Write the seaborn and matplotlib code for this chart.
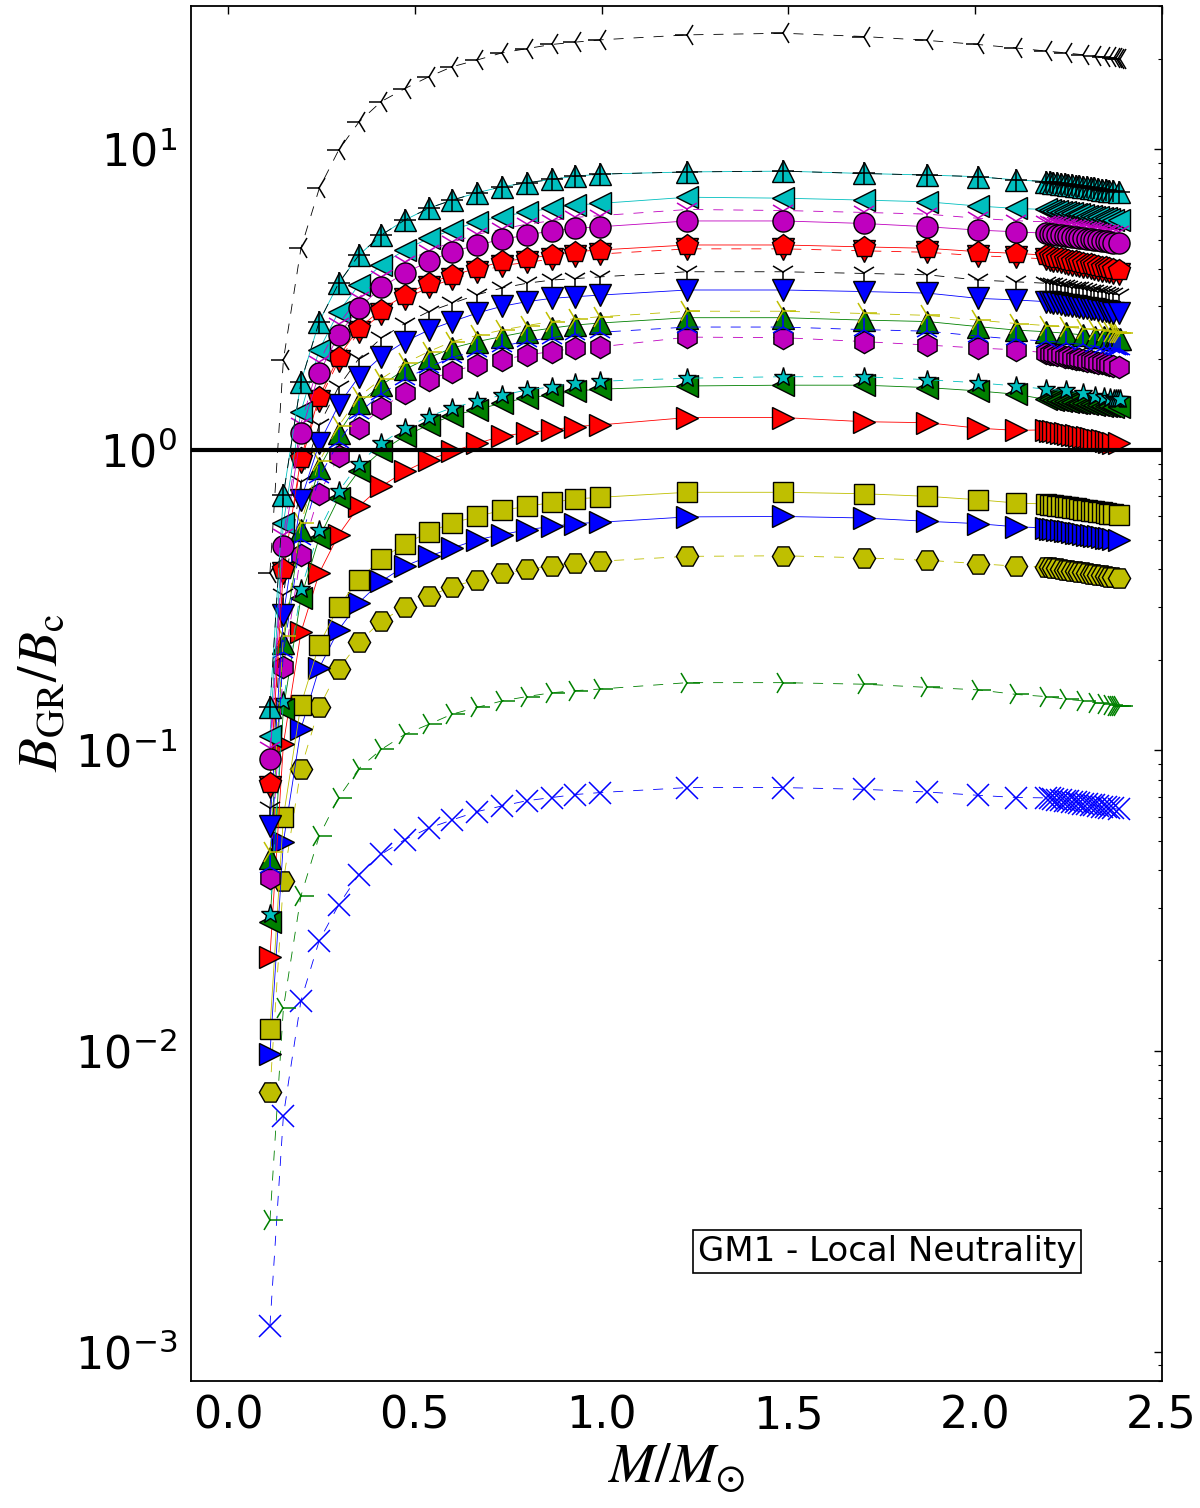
import matplotlib
matplotlib.use("Agg")
import matplotlib.pyplot as plt
import numpy as np
import pandas as pd
import seaborn as sns

# ---------------- data ----------------
# stellar masses of the sequence points (shared by all curves)
M_main = [0.112, 0.148, 0.195, 0.244, 0.296, 0.350, 0.410, 0.473, 0.537, 0.600, 0.667,
          0.733, 0.800, 0.867, 0.930, 0.997, 1.230, 1.487, 1.702, 1.873, 2.007, 2.111]
# dense end of the sequence, drawn as a ribbon of markers
M_ribbon = [2.190, 2.200, 2.210, 2.220, 2.230, 2.240, 2.250, 2.260, 2.270, 2.280,
            2.290, 2.300, 2.310, 2.320, 2.330, 2.340, 2.350, 2.360, 2.370, 2.385]
# dense end of the sequence for the curves whose last points converge
M_conv = [2.190, 2.245, 2.290, 2.322, 2.346, 2.362, 2.372, 2.379, 2.384, 2.388]

black_tril = [0.39, 1.99, 4.68, 7.4, 9.93, 12.3, 14.4, 15.9, 17.4, 18.8, 19.8,
              20.9, 21.6, 22.3, 22.7, 23.1, 24.0, 24.3, 23.7, 23.0, 22.3, 21.7]
black_tril_end = [21.2, 20.9, 20.6, 20.4, 20.3, 20.2, 20.1, 20.05, 20.0, 20.0]

cyan_up = [0.139, 0.709, 1.68, 2.67, 3.58, 4.44, 5.18, 5.81, 6.36, 6.77, 7.16,
           7.5, 7.73, 7.93, 8.13, 8.26, 8.4, 8.45, 8.3, 8.2, 8.1, 7.9]
cyan_up_end = [7.80, 7.77, 7.74, 7.71, 7.68, 7.65, 7.61, 7.58, 7.55, 7.52,
               7.49, 7.46, 7.43, 7.40, 7.37, 7.34, 7.31, 7.27, 7.24, 7.20]
# the black '+' curve lies on top of the cyan triangles
black_plus = cyan_up
black_plus_end = cyan_up_end

cyan_left = [0.112, 0.571, 1.34, 2.15, 2.88, 3.53, 4.12, 4.62, 5.05, 5.38, 5.73,
             5.96, 6.19, 6.35, 6.52, 6.6, 6.92, 6.87, 6.77, 6.68, 6.47, 6.35]
cyan_left_end = [6.30, 6.27, 6.25, 6.22, 6.20, 6.17, 6.14, 6.12, 6.09, 6.07,
                 6.04, 6.01, 5.99, 5.96, 5.94, 5.91, 5.88, 5.86, 5.83, 5.81]

magenta_trid = [0.102, 0.52, 1.22, 1.96, 2.62, 3.21, 3.75, 4.20, 4.60, 4.90, 5.21,
                5.42, 5.63, 5.78, 5.93, 6.01, 6.30, 6.25, 6.16, 6.08, 5.89, 5.78]
magenta_trid_end = [5.73, 5.71, 5.69, 5.66, 5.64, 5.61, 5.59, 5.57, 5.54, 5.52,
                    5.50, 5.47, 5.45, 5.42, 5.40, 5.38, 5.35, 5.33, 5.31, 5.29]

magenta_circ = [0.0933, 0.477, 1.14, 1.80, 2.41, 2.96, 3.47, 3.87, 4.23, 4.56, 4.80,
                5.01, 5.18, 5.35, 5.45, 5.52, 5.77, 5.77, 5.66, 5.52, 5.38, 5.31]
magenta_circ_end = [5.25, 5.23, 5.21, 5.19, 5.17, 5.15, 5.13, 5.11, 5.09, 5.07,
                    5.05, 5.03, 5.01, 4.99, 4.97, 4.95, 4.93, 4.91, 4.88, 4.86]

red_down = [0.0757, 0.388, 0.912, 1.455, 1.98, 2.46, 2.83, 3.17, 3.47, 3.70, 3.89,
            4.10, 4.20, 4.31, 4.42, 4.48, 4.66, 4.66, 4.59, 4.54, 4.42, 4.37]
red_down_end = [4.31, 4.28, 4.26, 4.23, 4.21, 4.18, 4.16, 4.13, 4.11, 4.08,
                4.06, 4.04, 4.02, 3.99, 3.97, 3.94, 3.92, 3.89, 3.87, 3.84]

red_pent = [0.078, 0.40, 0.94, 1.50, 2.04, 2.54, 2.92, 3.27, 3.58, 3.81, 4.01,
            4.23, 4.33, 4.44, 4.56, 4.62, 4.80, 4.80, 4.73, 4.68, 4.56, 4.50]
red_pent_end = [4.44, 4.41, 4.39, 4.36, 4.34, 4.31, 4.29, 4.26, 4.24, 4.21,
                4.19, 4.16, 4.14, 4.11, 4.09, 4.06, 4.04, 4.01, 3.99, 3.96]

black_trid = [0.0645, 0.33, 0.78, 1.21, 1.62, 2.01, 2.35, 2.63, 2.88, 3.07, 3.28,
              3.45, 3.58, 3.67, 3.71, 3.76, 3.91, 3.91, 3.86, 3.82, 3.67, 3.62]
black_trid_end = [3.58, 3.57, 3.55, 3.53, 3.51, 3.50, 3.48, 3.46, 3.45, 3.44,
                  3.42, 3.40, 3.38, 3.37, 3.36, 3.34, 3.32, 3.31, 3.29, 3.28]

blue_down = [0.0561, 0.283, 0.682, 1.05, 1.41, 1.75, 2.04, 2.29, 2.50, 2.67, 2.85,
             3.0, 3.11, 3.19, 3.23, 3.27, 3.4, 3.4, 3.36, 3.32, 3.19, 3.15]
blue_down_end = [3.11, 3.10, 3.08, 3.07, 3.05, 3.04, 3.03, 3.01, 3.00, 2.99,
                 2.97, 2.96, 2.94, 2.93, 2.92, 2.90, 2.89, 2.88, 2.86, 2.85]

green_up = [0.044, 0.228, 0.542, 0.87, 1.14, 1.43, 1.64, 1.85, 2.02, 2.18, 2.29,
            2.38, 2.47, 2.54, 2.60, 2.64, 2.75, 2.75, 2.70, 2.67, 2.57, 2.50]
green_up_end = [2.47, 2.44, 2.41, 2.38, 2.37, 2.35, 2.34, 2.335, 2.33, 2.33]

yellow_trir = [0.046, 0.24, 0.57, 0.915, 1.20, 1.50, 1.72, 1.94, 2.12, 2.29, 2.40,
               2.50, 2.59, 2.67, 2.73, 2.77, 2.89, 2.89, 2.84, 2.80, 2.70, 2.63]
yellow_trir_end = [2.59, 2.56, 2.53, 2.50, 2.49, 2.47, 2.46, 2.45, 2.45, 2.45]

blue_triu = [0.041, 0.212, 0.504, 0.81, 1.06, 1.33, 1.53, 1.72, 1.88, 2.03, 2.13,
             2.21, 2.30, 2.36, 2.42, 2.46, 2.56, 2.56, 2.51, 2.48, 2.39, 2.33]
blue_triu_end = [2.30, 2.27, 2.24, 2.21, 2.20, 2.19, 2.18, 2.17, 2.17, 2.17]

magenta_hex = [0.0375, 0.19, 0.448, 0.714, 0.95, 1.18, 1.38, 1.54, 1.71, 1.82, 1.92,
               1.99, 2.07, 2.12, 2.18, 2.20, 2.37, 2.36, 2.29, 2.23, 2.18, 2.15]
magenta_hex_end = [2.10, 2.09, 2.08, 2.07, 2.06, 2.04, 2.03, 2.02, 2.01, 2.00,
                   1.99, 1.98, 1.97, 1.96, 1.95, 1.94, 1.93, 1.91, 1.90, 1.89]

cyan_star = [0.0285, 0.146, 0.343, 0.54, 0.727, 0.90, 1.05, 1.18, 1.29, 1.38, 1.45,
             1.52, 1.58, 1.62, 1.67, 1.69, 1.73, 1.75, 1.75, 1.71, 1.67, 1.63]
cyan_star_end = [1.59, 1.575, 1.54, 1.51, 1.50, 1.49, 1.48, 1.475, 1.47, 1.47]

green_left = [0.0269, 0.137, 0.322, 0.51, 0.69, 0.85, 0.99, 1.11, 1.21, 1.30, 1.36,
              1.43, 1.49, 1.52, 1.57, 1.59, 1.63, 1.64, 1.64, 1.61, 1.57, 1.53]
green_left_end = [1.47, 1.47, 1.46, 1.46, 1.45, 1.45, 1.44, 1.44, 1.43, 1.43,
                  1.43, 1.42, 1.42, 1.41, 1.41, 1.40, 1.40, 1.40, 1.39, 1.39]

red_right = [0.0206, 0.105, 0.247, 0.389, 0.522, 0.648, 0.755, 0.847, 0.926, 0.987, 1.05,
             1.11, 1.14, 1.165, 1.195, 1.21, 1.28, 1.28, 1.24, 1.23, 1.18, 1.16]
red_right_end = [1.165, 1.159, 1.153, 1.147, 1.141, 1.135, 1.129, 1.123, 1.117, 1.111,
                 1.105, 1.099, 1.093, 1.087, 1.081, 1.075, 1.069, 1.063, 1.057, 1.050]

yellow_sq = [0.0118, 0.0602, 0.142, 0.225, 0.301, 0.37, 0.433, 0.487, 0.531, 0.571, 0.60,
             0.629, 0.648, 0.668, 0.686, 0.695, 0.722, 0.722, 0.714, 0.70, 0.682, 0.665]
yellow_sq_end = [0.660, 0.657, 0.654, 0.652, 0.649, 0.646, 0.643, 0.641, 0.638, 0.635,
                 0.632, 0.630, 0.627, 0.624, 0.621, 0.619, 0.616, 0.613, 0.611, 0.608]

blue_right = [0.0098, 0.0496, 0.118, 0.188, 0.252, 0.31, 0.365, 0.41, 0.442, 0.471, 0.502,
              0.522, 0.542, 0.556, 0.568, 0.574, 0.598, 0.60, 0.593, 0.578, 0.568, 0.554]
blue_right_end = [0.550, 0.547, 0.545, 0.542, 0.540, 0.537, 0.535, 0.532, 0.530, 0.527,
                  0.525, 0.522, 0.520, 0.517, 0.515, 0.512, 0.510, 0.507, 0.505, 0.502]

yellow_hex = [0.0073, 0.0368, 0.0869, 0.139, 0.186, 0.229, 0.269, 0.30, 0.326, 0.35, 0.37,
              0.388, 0.40, 0.41, 0.42, 0.426, 0.442, 0.444, 0.437, 0.429, 0.418, 0.41]
yellow_hex_end = [0.408, 0.406, 0.405, 0.403, 0.401, 0.399, 0.398, 0.396, 0.394, 0.392,
                  0.391, 0.389, 0.387, 0.385, 0.384, 0.382, 0.380, 0.378, 0.377, 0.375]

green_trir = [0.00273, 0.0139, 0.0328, 0.0519, 0.0697, 0.0869, 0.1007, 0.113, 0.122, 0.132, 0.139,
              0.146, 0.151, 0.1555, 0.158, 0.160, 0.168, 0.168, 0.166, 0.162, 0.159, 0.1535]
green_trir_end = [0.151, 0.148, 0.146, 0.144, 0.143, 0.142, 0.141, 0.1405, 0.140, 0.140]

blue_x = [0.00122, 0.0061, 0.0147, 0.0233, 0.0306, 0.0386, 0.0451, 0.0505, 0.0551, 0.0587, 0.0626,
          0.0653, 0.068, 0.0697, 0.0713, 0.0724, 0.0752, 0.0752, 0.0742, 0.0727, 0.0709, 0.0697]
blue_x_end = [0.0695, 0.0692, 0.0689, 0.0686, 0.0683, 0.0680, 0.0677, 0.0674, 0.0671, 0.0668,
              0.0665, 0.0662, 0.0659, 0.0656, 0.0653, 0.0650, 0.0647, 0.0644, 0.0641, 0.0637]

box_text = "GM1 - Local Neutrality"

# ---------------- style ----------------
sns.set_style("white")
plt.rcParams["font.family"] = ["DejaVu Sans"]
plt.rcParams["mathtext.fontset"] = "stix"
for key in ["text.color", "axes.labelcolor", "xtick.color", "ytick.color",
            "axes.edgecolor"]:
    plt.rcParams[key] = "black"

DASH = (0, (12, 12))
SOLID = "-"
MS_F = 16.0   # filled markers
MS_T = 18.0   # tri markers

# (values, tail values, tail masses, marker, colour, linestyle, size, filled)
series = [
    (black_tril, black_tril_end, M_conv, "3", "k", DASH, MS_T, False),
    (blue_x, blue_x_end, M_ribbon, "x", "b", DASH, MS_F, False),
    (green_trir, green_trir_end, M_conv, "4", "g", DASH, MS_T, False),
    (yellow_hex, yellow_hex_end, M_ribbon, "H", "y", DASH, MS_F, True),
    (blue_right, blue_right_end, M_ribbon, ">", "b", SOLID, MS_F, True),
    (yellow_sq, yellow_sq_end, M_ribbon, "s", "y", SOLID, MS_F * 0.92, True),
    (red_right, red_right_end, M_ribbon, ">", "r", SOLID, MS_F, True),
    (green_left, green_left_end, M_ribbon, "<", "g", SOLID, MS_F, True),
    (cyan_star, cyan_star_end, M_conv, "*", "c", DASH, 14.0, True),
    (magenta_hex, magenta_hex_end, M_ribbon, "h", "m", DASH, MS_F, True),
    (green_up, green_up_end, M_conv, "^", "g", SOLID, MS_F, True),
    (blue_triu, blue_triu_end, M_conv, "2", "b", DASH, MS_T, False),
    (yellow_trir, yellow_trir_end, M_conv, "4", "y", DASH, MS_T, False),
    (black_trid, black_trid_end, M_ribbon, "1", "k", DASH, MS_T, False),
    (blue_down, blue_down_end, M_ribbon, "v", "b", SOLID, MS_F, True),
    (red_down, red_down_end, M_ribbon, "v", "r", DASH, MS_F, True),
    (red_pent, red_pent_end, M_ribbon, "p", "r", SOLID, MS_F, True),
    (cyan_left, cyan_left_end, M_ribbon, "<", "c", SOLID, MS_F, True),
    (magenta_trid, magenta_trid_end, M_ribbon, "1", "m", DASH, MS_T, False),
    (magenta_circ, magenta_circ_end, M_ribbon, "o", "m", SOLID, MS_F * 0.95, True),
    (cyan_up, cyan_up_end, M_ribbon, "^", "c", SOLID, MS_F, True),
    (black_plus, black_plus_end, M_ribbon, "+", "k", DASH, MS_F, False),
]

fig = plt.figure(figsize=(12, 15.08), dpi=100)
ax = fig.add_axes([0.159, 0.0844, 0.809, 0.9118])

for vals, tail, mtail, mk, col, ls, ms, filled in series:
    df = pd.DataFrame({"M": list(M_main) + list(mtail),
                       "B": list(vals) + list(tail)})
    kws = dict(marker=mk, color=col, linestyle=ls, lw=0.6, markersize=ms)
    if filled:
        kws.update(mec="k", mew=1.0, markerfacecolor=col)
    else:
        kws.update(mec=col, mew=1.1)
    sns.lineplot(data=df, x="M", y="B", ax=ax, sort=False, estimator=None,
                 errorbar=None, legend=False, **kws)

ax.axhline(1.0, color="k", lw=3.0, zorder=10)

ax.set_yscale("log")
ax.set_xlim(-0.1, 2.5)
ax.set_ylim(8e-4, 30)
ax.set_xticks([0.0, 0.5, 1.0, 1.5, 2.0, 2.5])
ax.set_xticklabels(["0.0", "0.5", "1.0", "1.5", "2.0", "2.5"])

ax.tick_params(which="both", direction="in", top=True, right=True, colors="k")
ax.tick_params(which="major", length=6, width=1.0, labelsize=32, pad=10)
ax.tick_params(which="minor", length=3, width=0.8)
for sp in ax.spines.values():
    sp.set_linewidth(1.3)
    sp.set_color("k")

ax.set_xlabel(r"$M/M_{\odot}$", fontsize=40, labelpad=2, color="k")
ax.set_ylabel(r"$B_{\rm GR}/B_{\rm c}$", fontsize=40, labelpad=4, color="k")

ax.text(0.717, 0.094, box_text, transform=ax.transAxes, ha="center", va="center",
        fontsize=24.5, zorder=20, color="k",
        bbox=dict(boxstyle="square,pad=0.15", facecolor="white", edgecolor="k", lw=1.2))

fig.savefig("out.png", dpi=100)
